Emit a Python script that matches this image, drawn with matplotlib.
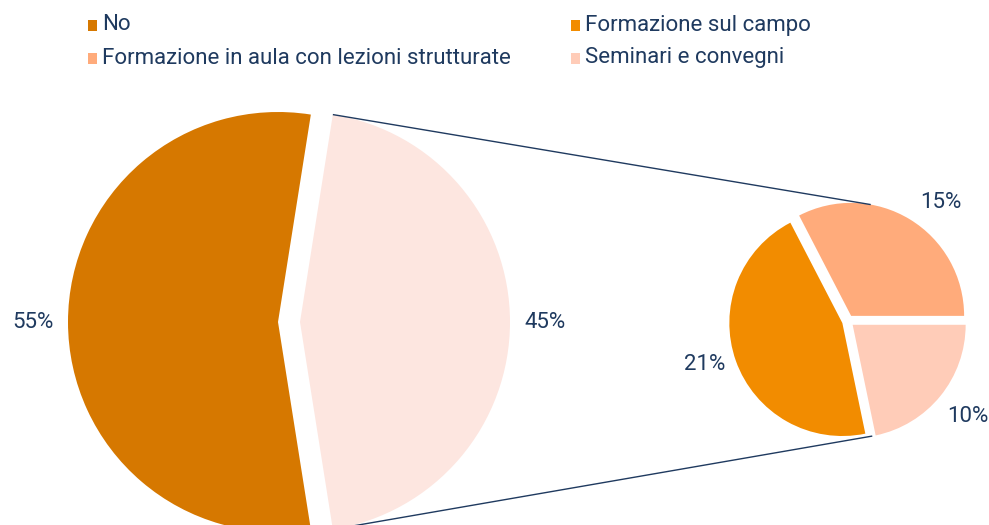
import numpy as np
import matplotlib
matplotlib.use("Agg")
import matplotlib.pyplot as plt
from matplotlib.patches import Rectangle

# dati
main_labels = ["Formazione (totale)", "No"]
main_values = [45, 55]
main_colors = ["#FDE6E0", "#D67800"]

sub_labels = ["Formazione in aula con lezioni strutturate", "Formazione sul campo", "Seminari e convegni"]
sub_values = [15, 21, 10]
sub_colors = ["#FFAB7B", "#F28C00", "#FFCCB8"]

legend_labels = ["No", "Formazione sul campo",
                 "Formazione in aula con lezioni strutturate", "Seminari e convegni"]
legend_colors = ["#D67800", "#F28C00", "#FFAB7B", "#FFCCB8"]

text_color = "#1F3A5F"
W, H = 989, 525

plt.rcParams["font.family"] = ["Roboto", "DejaVu Sans"]


def place_labels(wedges, texts, dists, shifts=None):
    # posiziona le etichette fuori dalla fetta, allineate a seconda del lato
    shifts = shifts or [0] * len(wedges)
    for w, t, d, s in zip(wedges, texts, dists, shifts):
        th = np.deg2rad((w.theta1 + w.theta2) / 2 + s)
        cx, cy = w.center
        x = cx + d * w.r * np.cos(th)
        y = cy + d * w.r * np.sin(th)
        t.set_position((x, y))
        t.set_ha("left" if np.cos(th) >= 0 else "right")
        t.set_va("center")


def edge_point(w, ang):
    cx, cy = w.center
    a = np.deg2rad(ang)
    return cx + w.r * np.cos(a), cy + w.r * np.sin(a)


fig = plt.figure(figsize=(W / 100, H / 100), dpi=100)
ax = fig.add_axes([0, 0, 1, 1])

# torta principale
big_c = (289, H - 322)
big_r = 210
big_off = 11
half = 360 * main_values[0] / sum(main_values) / 2
wedges, texts = ax.pie(main_values, colors=main_colors, center=big_c, radius=big_r,
                       startangle=-half, explode=[big_off, big_off],
                       labels=[f"{v}%" for v in main_values],
                       wedgeprops=dict(linewidth=0), frame=True,
                       textprops=dict(color=text_color, fontsize=16))
place_labels(wedges, texts, [1.07, 1.07])

# torta di dettaglio
small_c = (848, H - 321)
small_r = 113
small_off = 6
wedges2, texts2 = ax.pie(sub_values, colors=sub_colors, center=small_c, radius=small_r,
                         startangle=0, explode=[small_off] * 3,
                         labels=[f"{v}%" for v in sub_values],
                         wedgeprops=dict(linewidth=0), frame=True,
                         textprops=dict(color=text_color, fontsize=16))
place_labels(wedges2, texts2, [1.17, 1.1, 1.17], [0, 0, -5])

ax.set_xlim(0, W)
ax.set_ylim(0, H)
ax.set_aspect("equal")
ax.axis("off")

# linee di collegamento
pink = wedges[0]
for ang, target in ((half, wedges2[0]), (-half, wedges2[2])):
    x0, y0 = edge_point(pink, ang)
    x1, y1 = edge_point(target, np.sign(ang) * 80)
    ax.plot([x0, x1], [y0, y1], color=text_color, lw=1, solid_capstyle="butt")

# legenda
pos = [(88, 25), (571, 25), (88, 58), (571, 58)]
for (x, y), lab, col in zip(pos, legend_labels, legend_colors):
    ax.add_patch(Rectangle((x, H - y - 6), 9, 11, color=col, lw=0))
    ax.text(x + 14, H - y, lab, color=text_color, fontsize=16, va="center", ha="left")

fig.savefig("out.png", dpi=100)
